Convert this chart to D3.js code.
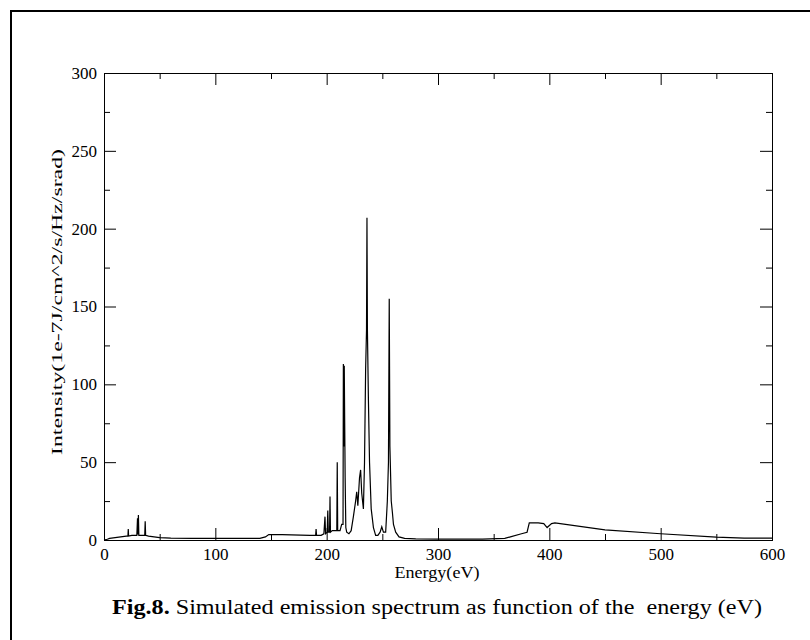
<!DOCTYPE html>
<html>
<head>
<meta charset="utf-8">
<script src="https://cdn.jsdelivr.net/npm/d3@7"></script>
<style>
  body { margin: 0; background: #fff; }
  svg { display: block; }
  text { font-family: "Liberation Serif", "DejaVu Serif", serif; fill: #000; }
</style>
</head>
<body>
<svg id="chart" width="810" height="640"></svg>
<script>
// spectrum (energy in eV, intensity in 1e-7 J/cm^2/s/Hz/srad)
var energy = [
  0, 3, 5, 10, 15, 20, 21.5, 21.8, 22.1, 25, 29.5, 30.1, 30.5, 30.9, 31.3,
  36.6, 37, 37.4, 40, 45, 50, 60, 80, 100, 120, 140, 145, 148, 160, 185,
  190.1, 190.5, 190.9, 195, 197.5, 198.5, 199, 200.5, 201, 201.5, 202.6, 203, 203.4,
  205, 209.1, 209.5, 209.9, 212, 213.5, 214.7, 215, 215.4, 215.8, 216.2, 216.6, 217.2,
  218, 220, 222, 224, 226, 227, 228, 229.5, 230.5, 231.5, 233, 234, 235, 235.8,
  236.2, 236.6, 237.5, 238.5, 240, 242, 244, 246, 248, 249.5, 251, 253, 254.5,
  255.5, 256.2, 256.8, 258, 259, 260, 262, 265, 270, 280, 300, 340, 360, 365,
  375, 380, 382, 390, 395, 398, 402, 405, 450, 500, 550, 575, 600
];
var intensity = [
  0, 0.5, 1, 1.5, 2, 2.5, 2.5, 7, 2.5, 3, 3, 14, 3.5, 16, 3,
  3, 12, 3, 2.5, 2, 1.5, 1.2, 1, 1, 1, 1, 2, 3.5, 3.5, 3,
  3, 7, 3, 3, 4, 15, 4, 5, 19, 5, 5, 28, 5,
  6, 6, 50, 6, 6, 10, 10, 113, 60, 112, 75, 40, 8,
  5, 4, 6, 15, 25, 31, 22, 40, 45, 30, 20, 50, 110, 135,
  207, 135, 90, 50, 20, 8, 3, 3, 5, 8.5, 5, 5, 25,
  50, 155, 60, 25, 18, 10, 5, 2, 1, 0.7, 0.5, 0.5, 1, 2,
  4, 5, 11, 11, 10.5, 8, 10.5, 11, 6.5, 4, 1.8, 1.2, 1.2
];
var xMajor = [0, 100, 200, 300, 400, 500, 600];
var xMinor = [50, 150, 250, 350, 450, 550];
var yMajor = [0, 50, 100, 150, 200, 250, 300];
var yMinor = [25, 75, 125, 175, 225, 275];
var xTitle = "Energy(eV)";
var yTitle = "Intensity(1e-7J/cm^2/s/Hz/srad)";
var captionBold = "Fig.8.";
var captionText = " Simulated emission spectrum as function of the  energy (eV)";

d3.select(window).on("load", init);

function init() {
  var svg = d3.select("#chart");

  var mLeft = 104, mRight = 772, mTop = 73, mBottom = 540;

  var x = d3.scaleLinear().domain([0, 600]).range([mLeft, mRight]);
  var y = d3.scaleLinear().domain([0, 300]).range([mBottom, mTop]);

  // outer frame of the figure (right/bottom edges fall outside the picture)
  svg.append("rect")
    .attr("x", 11).attr("y", 11)
    .attr("width", 900).attr("height", 900)
    .attr("fill", "none")
    .attr("stroke", "#000")
    .attr("stroke-width", 2);

  function styleAxis(g) {
    g.select(".domain").remove();
    g.selectAll(".tick line").attr("stroke", "#000").attr("stroke-width", 1);
    g.selectAll("text")
      .style("font-family", "'Liberation Serif', serif")
      .style("font-size", "17px")
      .attr("fill", "#000");
  }

  // bottom axis with labels, ticks inward
  svg.append("g")
    .attr("transform", "translate(0," + mBottom + ")")
    .call(d3.axisBottom(x).tickValues(xMajor).tickSize(-12).tickPadding(8).tickFormat(d3.format("d")))
    .call(styleAxis);
  svg.append("g")
    .attr("transform", "translate(0," + mBottom + ")")
    .call(d3.axisBottom(x).tickValues(xMinor).tickSize(-6).tickFormat(""))
    .call(styleAxis);
  // top mirror
  svg.append("g")
    .attr("transform", "translate(0," + mTop + ")")
    .call(d3.axisTop(x).tickValues(xMajor).tickSize(-12).tickFormat(""))
    .call(styleAxis);
  svg.append("g")
    .attr("transform", "translate(0," + mTop + ")")
    .call(d3.axisTop(x).tickValues(xMinor).tickSize(-6).tickFormat(""))
    .call(styleAxis);

  // left axis
  svg.append("g")
    .attr("transform", "translate(" + mLeft + ",0)")
    .call(d3.axisLeft(y).tickValues(yMajor).tickSize(-12).tickPadding(7).tickFormat(d3.format("d")))
    .call(styleAxis);
  svg.append("g")
    .attr("transform", "translate(" + mLeft + ",0)")
    .call(d3.axisLeft(y).tickValues(yMinor).tickSize(-6).tickFormat(""))
    .call(styleAxis);
  // right mirror
  svg.append("g")
    .attr("transform", "translate(" + mRight + ",0)")
    .call(d3.axisRight(y).tickValues(yMajor).tickSize(-12).tickFormat(""))
    .call(styleAxis);
  svg.append("g")
    .attr("transform", "translate(" + mRight + ",0)")
    .call(d3.axisRight(y).tickValues(yMinor).tickSize(-6).tickFormat(""))
    .call(styleAxis);

  // plot box
  svg.append("rect")
    .attr("x", mLeft + 0.5).attr("y", mTop + 0.5)
    .attr("width", mRight - mLeft).attr("height", mBottom - mTop)
    .attr("fill", "none")
    .attr("stroke", "#000")
    .attr("stroke-width", 1);

  // spectrum
  var pts = energy.map(function(e, i) { return [e, intensity[i]]; });
  var line = d3.line()
    .x(function(d) { return x(d[0]); })
    .y(function(d) { return y(d[1]); });

  svg.append("path")
    .datum(pts)
    .attr("d", line)
    .attr("fill", "none")
    .attr("stroke", "#000")
    .attr("stroke-width", 1.2);

  // axis titles (the original is stretched a little, so fix the lengths)
  svg.append("text")
    .attr("x", 437)
    .attr("y", 578)
    .attr("text-anchor", "middle")
    .attr("textLength", 85)
    .attr("lengthAdjust", "spacingAndGlyphs")
    .style("font-size", "16px")
    .text(xTitle);

  svg.append("text")
    .attr("transform", "translate(62,302) rotate(-90)")
    .attr("text-anchor", "middle")
    .attr("textLength", 306)
    .attr("lengthAdjust", "spacingAndGlyphs")
    .style("font-size", "15px")
    .text(yTitle);

  // caption
  var cap = svg.append("text")
    .attr("x", 112)
    .attr("y", 614)
    .attr("textLength", 650)
    .attr("lengthAdjust", "spacingAndGlyphs")
    .style("font-size", "20px");
  cap.append("tspan").style("font-weight", "bold").text(captionBold);
  cap.append("tspan").style("white-space", "pre").text(captionText);
}
</script>
</body>
</html>
